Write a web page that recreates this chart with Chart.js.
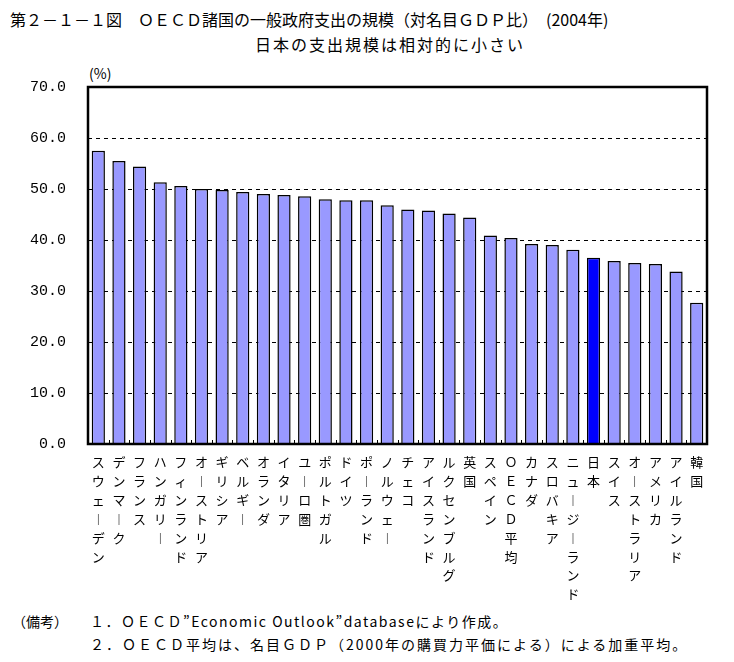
<!DOCTYPE html>
<html lang="ja">
<head>
<meta charset="utf-8">
<script src="https://cdn.jsdelivr.net/npm/chart.js@4/dist/chart.umd.min.js"></script>
<style>
  body { margin: 0; background: #fff; font-family: "Noto Sans CJK JP", sans-serif; }
  #wrap { position: relative; width: 734px; height: 662px; overflow: hidden; }
  .txt { position: absolute; white-space: pre; color: #000; }
  #title { left: 10px; top: 7px; font-size: 16px; }
  #subtitle { left: 255px; top: 32px; font-size: 16px; letter-spacing: 2px; }
  #unit { left: 89px; top: 63px; font-size: 14px; }
  #noteHead { left: 12px; top: 611px; font-size: 14px; }
  #note1 { left: 90px; top: 611px; font-size: 14px; letter-spacing: 1.5px; }
  #note2 { left: 90px; top: 634px; font-size: 14px; letter-spacing: 2px; }
  #chartBox { position: absolute; left: 0; top: 56px; width: 734px; height: 544px; }
</style>
</head>
<body>
<div id="wrap">
  <div class="txt" id="title">第２－１－１図　ＯＥＣＤ諸国の一般政府支出の規模（対名目ＧＤＰ比）　(2004年)</div>
  <div class="txt" id="subtitle">日本の支出規模は相対的に小さい</div>
  <div class="txt" id="unit">(%)</div>
  <div id="chartBox"><canvas id="chart"></canvas></div>
  <div class="txt" id="noteHead">（備考）</div>
  <div class="txt" id="note1">１．ＯＥＣＤ”Economic Outlook”databaseにより作成。</div>
  <div class="txt" id="note2">２．ＯＥＣＤ平均は、名目ＧＤＰ（2000年の購買力平価による）による加重平均。</div>
</div>
<script>
// Countries (x axis)
const countries = [
  'スウェーデン', 'デンマーク', 'フランス', 'ハンガリー', 'フィンランド', 'オーストリア',
  'ギリシア', 'ベルギー', 'オランダ', 'イタリア', 'ユーロ圏', 'ポルトガル', 'ドイツ',
  'ポーランド', 'ノルウェー', 'チェコ', 'アイスランド', 'ルクセンブルグ', '英国', 'スペイン',
  'ＯＥＣＤ平均', 'カナダ', 'スロバキア', 'ニュージーランド', '日本', 'スイス',
  'オーストラリア', 'アメリカ', 'アイルランド', '韓国'
];

// General government spending, % of nominal GDP (2004)
const spending = [
  57.5, 55.5, 54.4, 51.3, 50.6, 50.0,
  49.8, 49.4, 49.0, 48.8, 48.6, 48.0, 47.8,
  47.8, 46.8, 46.0, 45.8, 45.2, 44.4, 40.9,
  40.4, 39.2, 39.0, 38.1, 36.5, 35.9,
  35.5, 35.3, 33.8, 27.7
];

const highlight = '日本';
const yTicks = [0, 10, 20, 30, 40, 50, 60, 70];

// vertical labels: one char per line, long vowel turned upright
const vertLabels = countries.map(c => Array.from(c).map(ch => ch === 'ー' ? '︱' : ch));

// frame + small inner tick marks on the axes
const framePlugin = {
  id: 'frame',
  afterDatasetsDraw(chart) {
    const { ctx, chartArea: a, scales } = chart;
    ctx.save();
    ctx.strokeStyle = '#000';
    ctx.lineWidth = 1;
    ctx.beginPath();
    for (let i = 0; i <= countries.length; i++) {
      const x = Math.round(scales.x.getPixelForValue(i - 0.5)) + 0.5;
      ctx.moveTo(x, a.bottom);
      ctx.lineTo(x, a.bottom - 4);
    }
    yTicks.forEach(v => {
      const y = Math.round(scales.y.getPixelForValue(v)) + 0.5;
      ctx.moveTo(a.left, y);
      ctx.lineTo(a.left + 4, y);
    });
    ctx.stroke();
    ctx.lineWidth = 2.5;
    ctx.strokeRect(a.left, a.top, a.right - a.left, a.bottom - a.top);
    ctx.restore();
  }
};

new Chart(document.getElementById('chart'), {
  type: 'bar',
  data: {
    labels: vertLabels,
    datasets: [{
      data: spending,
      backgroundColor: countries.map(c => c === highlight ? '#0000FF' : '#9999FF'),
      borderColor: '#000',
      borderWidth: 1.5,
      barPercentage: 0.64,
      categoryPercentage: 1.0
    }]
  },
  options: {
    responsive: true,
    maintainAspectRatio: false,
    animation: false,
    layout: { padding: { top: 0, right: 27, left: 0, bottom: 0 } },
    plugins: {
      legend: { display: false },
      tooltip: { enabled: false }
    },
    scales: {
      x: {
        grid: { display: false, drawTicks: false },
        border: { display: false },
        ticks: {
          autoSkip: false,
          maxRotation: 0,
          minRotation: 0,
          padding: 9,
          color: '#000',
          font: { family: '"Noto Sans CJK JP"', size: 13, lineHeight: 1.45 }
        },
        afterFit(scale) { scale.height = 156; }
      },
      y: {
        min: 0,
        max: 70,
        afterBuildTicks(scale) { scale.ticks = yTicks.map(v => ({ value: v })); },
        grid: {
          drawTicks: false,
          color: ctx => (ctx.tick && (ctx.tick.value === 0 || ctx.tick.value === 70)) ? 'rgba(0,0,0,0)' : '#000',
          lineWidth: 1
        },
        border: { display: false, dash: [4, 4] },
        ticks: {
          padding: 22,
          color: '#000',
          font: { family: '"Liberation Mono", monospace', size: 15 },
          callback: v => Number(v).toFixed(1)
        },
        afterFit(scale) { scale.width = 88; }
      }
    }
  },
  plugins: [framePlugin]
});
</script>
</body>
</html>
